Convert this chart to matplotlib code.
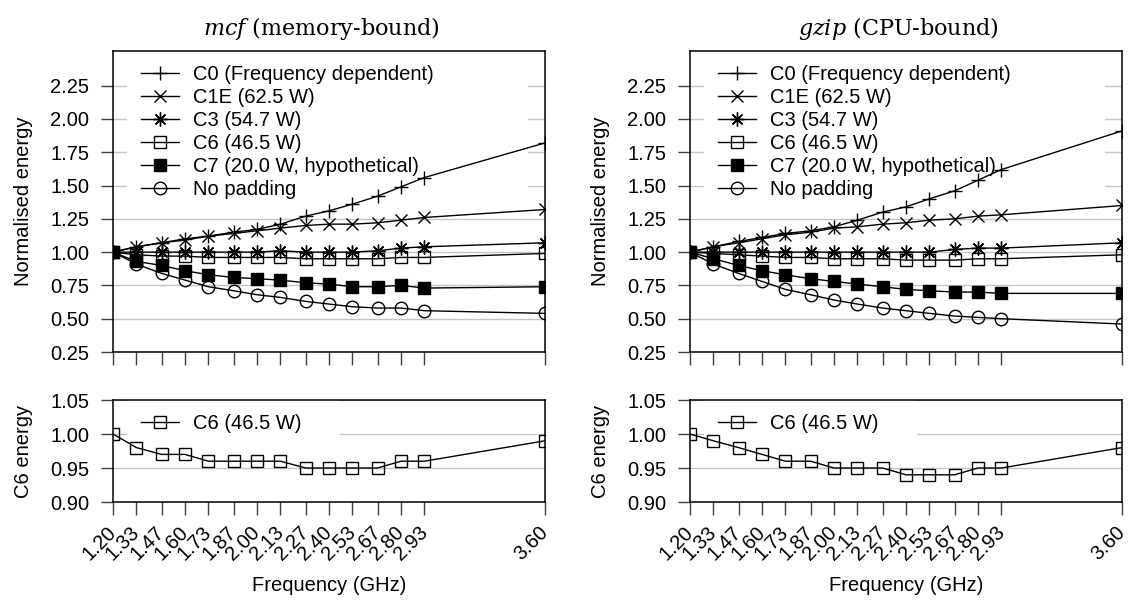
import numpy as np
import matplotlib
matplotlib.use("Agg")
from matplotlib import pyplot as plt

plt.rcParams['font.family'] = ['Liberation Sans', 'DejaVu Sans']
plt.rcParams['mathtext.fontset'] = 'custom'
plt.rcParams['mathtext.it'] = 'DejaVu Serif:italic'
plt.rcParams['mathtext.rm'] = 'DejaVu Serif'

freq = [1.20, 1.33, 1.47, 1.60, 1.73, 1.87, 2.00, 2.13, 2.27, 2.40, 2.53, 2.67, 2.80, 2.93, 3.60]
freq_labels = ["%.2f" % f for f in freq]

labels = ["C0 (Frequency dependent)", "C1E (62.5 W)", "C3 (54.7 W)",
          "C6 (46.5 W)", "C7 (20.0 W, hypothetical)", "No padding"]

# mcf (memory-bound)
mcf_c0 = [1.00, 1.04, 1.07, 1.10, 1.12, 1.15, 1.17, 1.21, 1.27, 1.31, 1.36, 1.42, 1.49, 1.56, 1.82]
mcf_c1e = [1.00, 1.04, 1.07, 1.09, 1.12, 1.14, 1.16, 1.18, 1.20, 1.21, 1.21, 1.22, 1.24, 1.26, 1.32]
mcf_c3 = [1.00, 1.00, 1.00, 1.00, 1.00, 1.00, 1.00, 1.01, 1.00, 1.00, 1.00, 1.01, 1.03, 1.04, 1.07]
mcf_c6 = [1.00, 0.98, 0.97, 0.97, 0.96, 0.96, 0.96, 0.96, 0.95, 0.95, 0.95, 0.95, 0.96, 0.96, 0.99]
mcf_c7 = [1.00, 0.93, 0.90, 0.86, 0.83, 0.81, 0.80, 0.79, 0.77, 0.76, 0.74, 0.74, 0.75, 0.73, 0.74]
mcf_nopad = [1.00, 0.91, 0.84, 0.79, 0.74, 0.71, 0.68, 0.66, 0.63, 0.61, 0.59, 0.58, 0.58, 0.56, 0.54]

# gzip (CPU-bound)
gzip_c0 = [1.00, 1.04, 1.08, 1.11, 1.14, 1.16, 1.19, 1.24, 1.30, 1.34, 1.40, 1.46, 1.54, 1.62, 1.91]
gzip_c1e = [1.00, 1.04, 1.07, 1.10, 1.13, 1.15, 1.18, 1.19, 1.21, 1.22, 1.24, 1.25, 1.27, 1.28, 1.35]
gzip_c3 = [1.00, 1.00, 1.00, 1.00, 1.00, 1.00, 1.00, 1.00, 1.00, 1.00, 1.00, 1.02, 1.03, 1.03, 1.07]
gzip_c6 = [1.00, 0.99, 0.98, 0.97, 0.96, 0.96, 0.95, 0.95, 0.95, 0.94, 0.94, 0.94, 0.95, 0.95, 0.98]
gzip_c7 = [1.00, 0.95, 0.90, 0.86, 0.83, 0.80, 0.78, 0.76, 0.74, 0.72, 0.71, 0.70, 0.70, 0.69, 0.69]
gzip_nopad = [1.00, 0.91, 0.84, 0.78, 0.72, 0.68, 0.64, 0.61, 0.58, 0.56, 0.54, 0.52, 0.51, 0.50, 0.46]

top_ticks = [0.25, 0.50, 0.75, 1.00, 1.25, 1.50, 1.75, 2.00, 2.25]
bot_ticks = [0.90, 0.95, 1.00, 1.05]

styles = [
    dict(marker='+', ms=10, mfc='none'),
    dict(marker='x', ms=8.5, mfc='none'),
    dict(marker=(8, 2, 0), ms=10, mfc='none'),
    dict(marker='s', ms=9, mfc='none'),
    dict(marker='s', ms=8.5, mfc='k'),
    dict(marker='o', ms=9, mfc='none'),
]

FS = 14.5
fig = plt.figure(figsize=(11.3, 6.01), dpi=100)

panels = [
    (113, r'$\mathit{mcf}$ (memory-bound)',
     [mcf_c0, mcf_c1e, mcf_c3, mcf_c6, mcf_c7, mcf_nopad]),
    (690, r'$\mathit{gzip}$ (CPU-bound)',
     [gzip_c0, gzip_c1e, gzip_c3, gzip_c6, gzip_c7, gzip_nopad]),
]


def style_axes(ax, ticks):
    ax.set_xlim(1.2, 3.6)
    ax.set_xticks(freq)
    ax.set_yticks(ticks)
    ax.yaxis.set_major_formatter(matplotlib.ticker.FormatStrFormatter('%.2f'))
    ax.grid(axis='y', color='#c4c4c4', linewidth=1)
    ax.set_axisbelow(True)
    ax.tick_params(direction='out', length=9, width=1, color='#404040',
                   labelsize=FS, pad=8)
    for s in ax.spines.values():
        s.set_linewidth(1.1)


def add_legend(ax, width):
    leg = ax.legend(loc='upper left', bbox_to_anchor=(0.032, 1.0, width, 0),
                    mode='expand', borderaxespad=0, borderpad=0.7,
                    labelspacing=0.2, handlelength=1.9, handletextpad=0.7,
                    fontsize=FS, frameon=True, fancybox=False, framealpha=1)
    leg.get_frame().set_edgecolor('none')
    leg.set_zorder(1.5)


for left_px, title, series in panels:
    x0 = left_px / 1130
    w = 432 / 1130
    ax_top = fig.add_axes([x0, 1 - 352 / 601, w, 301 / 601])
    ax_bot = fig.add_axes([x0, 1 - 502 / 601, w, 102 / 601])

    for data, lab, st in zip(series, labels, styles):
        ax_top.plot(freq, data, color='k', linewidth=1, mec='k', mew=1,
                    label=lab, **st)
    ax_top.set_ylim(0.25, 2.51)
    style_axes(ax_top, top_ticks)
    ax_top.tick_params(axis='x', labelbottom=False)
    ax_top.set_ylabel("Normalised energy", fontsize=FS)
    ax_top.yaxis.set_label_coords(-0.185, 0.5)
    add_legend(ax_top, 0.928)

    ax_bot.plot(freq, series[3], color='k', linewidth=1, mec='k', mew=1,
                label=labels[3], **styles[3])
    ax_bot.set_ylim(0.90, 1.05)
    style_axes(ax_bot, bot_ticks)
    ax_bot.tick_params(axis='x', pad=11)
    ax_bot.set_xticklabels(freq_labels, rotation=45, ha='right', va='center',
                           rotation_mode='anchor')
    ax_bot.set_ylabel("C6 energy", fontsize=FS)
    ax_bot.yaxis.set_label_coords(-0.185, 0.5)
    ax_bot.set_xlabel("Frequency (GHz)", fontsize=FS)
    ax_bot.xaxis.set_label_coords(0.5, -0.73)
    add_legend(ax_bot, 0.493)

    fig.text((left_px + 208) / 1130, 1 - 28 / 601, title, ha='center', va='center',
             fontsize=16, family='DejaVu Serif')

fig.savefig("out.png", dpi=100)
